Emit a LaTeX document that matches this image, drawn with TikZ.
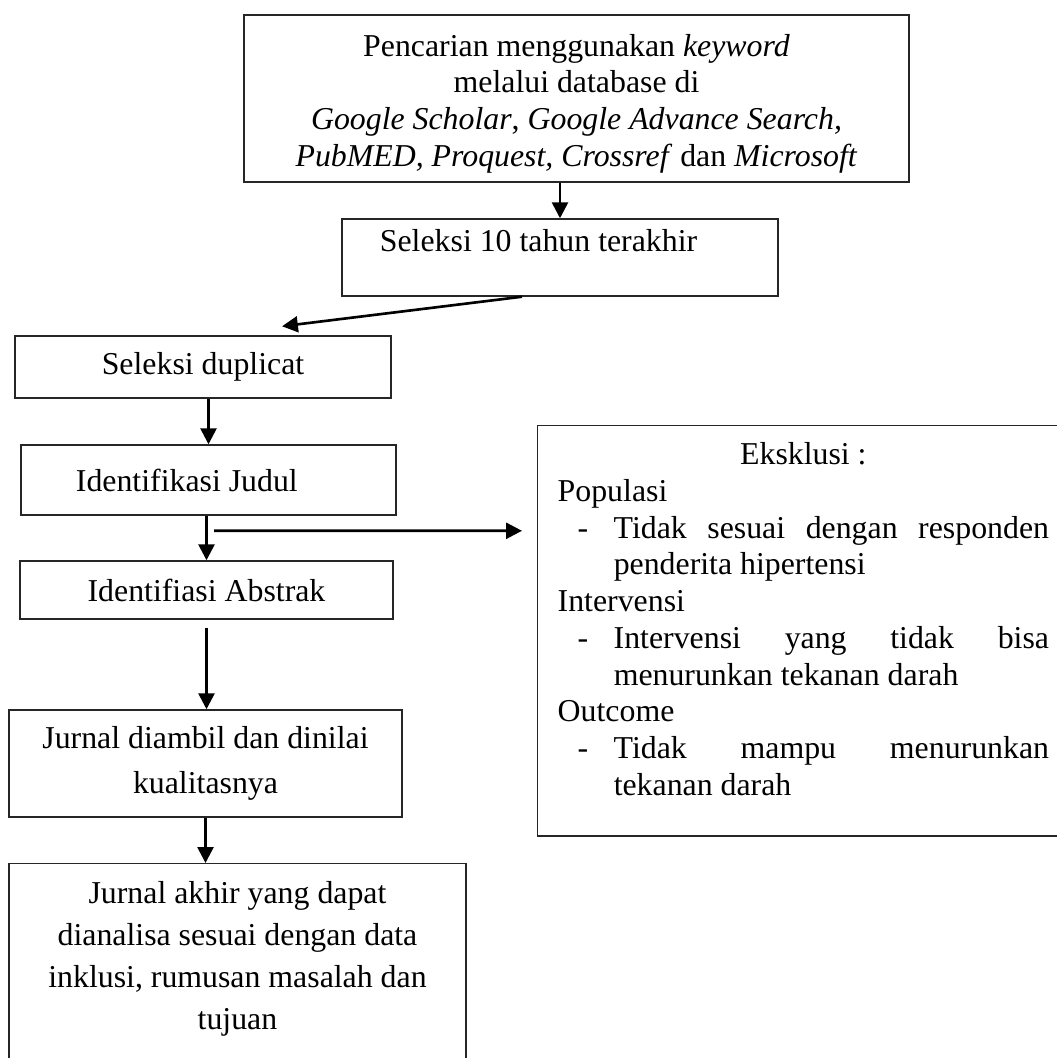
\documentclass[tikz,border=0pt]{standalone}
\usepackage{fontspec}
\setmainfont{Liberation Serif}
\usetikzlibrary{arrows.meta}
\setlength{\parindent}{0pt}
\newcommand{\butir}[1]{\hangindent=0.56cm\hangafter=1\makebox[0.56cm][l]{\hspace{0.2cm}-}#1\par}
\newcommand{\spasi}{\spaceskip=\fontdimen2\font\relax\xspaceskip=\fontdimen2\font\relax}

\begin{document}
\begin{tikzpicture}[
  x=0.01cm, y=-0.01cm,
  >={Triangle[length=4.5pt,width=4.5pt]},
  every node/.style={font=\fontsize{9.05pt}{10.44pt}\selectfont},
  kotak/.style={draw=black!85, line width=0.4pt, inner sep=0pt, align=center},
  arrow/.style={->, line width=0.75pt}
]
  \useasboundingbox (0,0) rectangle (1056,1058);

  %--- nodes
  \node[kotak, line width=0.65pt, anchor=north, text width=6.65cm, inner ysep=0.09cm, text height=0.32cm] (cari) at (576.5,14)
    {\spasi Pencarian menggunakan \textit{keyword}\\ melalui database di\\ \textit{Google Scholar}, \textit{Google Advance Search,}\\ \textit{PubMED, Proquest, Crossref} dan \textit{Microsoft}};
  \node[kotak, minimum width=4.36cm, minimum height=0.77cm, text width=3.6cm, align=left, text depth=0.35cm] (tahun) at (560,257.5)
    {\spasi Seleksi 10 tahun terakhir};
  \node[kotak, minimum width=3.76cm, minimum height=0.62cm] (duplikat) at (203,367) {Seleksi duplicat};
  \node[kotak, minimum width=3.75cm, minimum height=0.70cm, text width=2.65cm, align=left] (judul) at (208.5,480) {\spasi Identifikasi Judul};
  \node[kotak, minimum width=3.73cm, minimum height=0.58cm] (abstrak) at (206.5,590) {Identifiasi Abstrak};
  \node[kotak, minimum width=3.93cm, minimum height=1.07cm, font=\fontsize{9.05pt}{12.8pt}\selectfont] (nilai) at (205.5,763.5)
    {Jurnal diambil dan dinilai\\ kualitasnya};
  \node[kotak, anchor=north, text width=4.57cm, inner ysep=0.18cm, text depth=1.9cm, font=\fontsize{9.05pt}{11.9pt}\selectfont] (akhir) at (237.5,863)
    {\spasi Jurnal akhir yang dapat\\ dianalisa sesuai dengan data\\ inklusi, rumusan masalah dan\\ tujuan};
  \node[kotak, anchor=north west, text width=4.91cm, inner xsep=0.2cm, inner ysep=0.17cm, align=justify, text depth=3.54cm] (eksklusi) at (537,425)
    {{\centering Eksklusi :\par}
     Populasi\par
     \butir{Tidak sesuai dengan responden\linebreak penderita hipertensi}
     Intervensi\par
     \butir{Intervensi yang tidak bisa\linebreak menurunkan tekanan darah}
     Outcome\par
     \butir{Tidak mampu menurunkan\linebreak tekanan darah}};

  %--- arrows
  \draw[arrow] (cari.south -| tahun) -- (tahun.north);
  \draw[arrow] ([xshift=-0.38cm]tahun.south) -- ([xshift=0.79cm,yshift=0.09cm]duplikat.north);
  \draw[arrow] (duplikat.south -| judul) -- (judul.north);
  \draw[arrow] (judul.south -| abstrak) -- (abstrak.north);
  \draw[arrow] ([xshift=0.055cm,yshift=-0.15cm]judul.south) -- ([xshift=-0.15cm,yshift=1cm]eksklusi.west);
  \draw[arrow] ([yshift=-0.08cm]abstrak.south) -- (abstrak.south |- nilai.north);
  \draw[arrow] (nilai.south) -- (nilai.south |- akhir.north);

\end{tikzpicture}
\end{document}
